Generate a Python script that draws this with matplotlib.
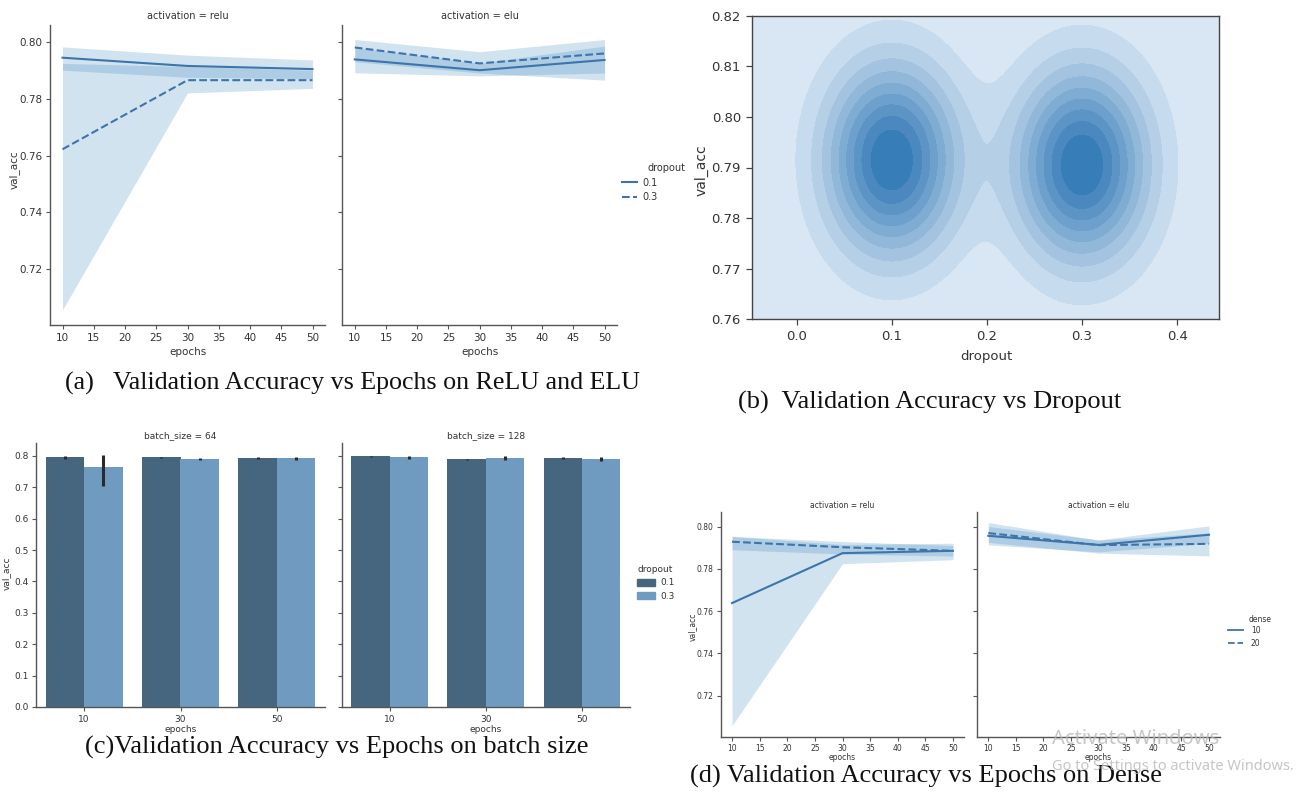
import numpy as np
import matplotlib
matplotlib.use("Agg")
import matplotlib.pyplot as plt
from matplotlib.colors import LinearSegmentedColormap
from matplotlib.lines import Line2D
from matplotlib.patches import Patch

# ---------------- data ----------------
epochs = [10, 30, 50]
epoch_ticks = [10, 15, 20, 25, 30, 35, 40, 45, 50]

# (a) val_acc vs epochs, style = dropout
a_relu_d01 = [0.7944, 0.7915, 0.7904]
a_relu_d01_lo = [0.7900, 0.7875, 0.7870]
a_relu_d01_hi = [0.7982, 0.7953, 0.7936]
a_relu_d03 = [0.7622, 0.7865, 0.7865]
a_relu_d03_lo = [0.7057, 0.7820, 0.7836]
a_relu_d03_hi = [0.7924, 0.7913, 0.7900]

a_elu_d01 = [0.7938, 0.7900, 0.7936]
a_elu_d01_lo = [0.7891, 0.7880, 0.7890]
a_elu_d01_hi = [0.7980, 0.7925, 0.7985]
a_elu_d03 = [0.7980, 0.7924, 0.7959]
a_elu_d03_lo = [0.7930, 0.7890, 0.7865]
a_elu_d03_hi = [0.8008, 0.7965, 0.8008]

# (b) bivariate KDE of dropout vs val_acc (peak parameters)
kde_peak_dropout = [0.1, 0.3]
kde_peak_valacc = [0.7915, 0.7905]
kde_bw_dropout = 0.047
kde_bw_valacc = 0.0129

# (c) bar chart val_acc by epochs, hue = dropout, facet = batch_size
batch_sizes = [64, 128]
epoch_cats = ["10", "30", "50"]
dropout_levels = ["0.1", "0.3"]
c_bs64_d01 = [0.795, 0.795, 0.792]
c_bs64_d01_lo = [0.791, 0.793, 0.789]
c_bs64_d01_hi = [0.799, 0.797, 0.795]
c_bs64_d03 = [0.766, 0.790, 0.792]
c_bs64_d03_lo = [0.704, 0.786, 0.788]
c_bs64_d03_hi = [0.803, 0.793, 0.796]
c_bs128_d01 = [0.798, 0.789, 0.792]
c_bs128_d01_lo = [0.795, 0.787, 0.789]
c_bs128_d01_hi = [0.801, 0.791, 0.795]
c_bs128_d03 = [0.795, 0.792, 0.789]
c_bs128_d03_lo = [0.791, 0.787, 0.783]
c_bs128_d03_hi = [0.798, 0.798, 0.795]

# (d) val_acc vs epochs, style = dense
dense_levels = ["10", "20"]
d_relu_n10 = [0.7638, 0.7874, 0.7885]
d_relu_n10_lo = [0.7058, 0.7824, 0.7843]
d_relu_n10_hi = [0.7953, 0.7915, 0.7921]
d_relu_n20 = [0.7928, 0.7902, 0.7885]
d_relu_n20_lo = [0.7890, 0.7870, 0.7860]
d_relu_n20_hi = [0.7953, 0.7929, 0.7910]
d_elu_n10 = [0.7956, 0.7913, 0.7961]
d_elu_n10_lo = [0.7913, 0.7880, 0.7920]
d_elu_n10_hi = [0.8000, 0.7937, 0.8003]
d_elu_n20 = [0.7969, 0.7912, 0.7918]
d_elu_n20_lo = [0.7925, 0.7874, 0.7861]
d_elu_n20_hi = [0.8019, 0.7935, 0.7970]

# ---------------- style ----------------
W, H = 1303, 794
plt.rcParams["font.family"] = ["DejaVu Sans"]
fig = plt.figure(figsize=(W / 100, H / 100), dpi=100)

C0 = "#1f77b4"
LINE = "#3d74aa"
SPINE = "#555555"
TXT = "#333333"
SERIF = ["Liberation Serif", "DejaVu Serif"]
BAR_DARK = "#46667f"
BAR_LIGHT = "#6f9bc1"


def add_ax(x0, y0, x1, y1):
    return fig.add_axes([x0 / W, 1 - y1 / H, (x1 - x0) / W, (y1 - y0) / H])


def ftext(x, y, s, **kw):
    return fig.text(x / W, 1 - y / H, s, **kw)


def style_facet(ax, fs, labelleft=True):
    for s in ["top", "right"]:
        ax.spines[s].set_visible(False)
    for s in ["left", "bottom"]:
        ax.spines[s].set_color(SPINE)
        ax.spines[s].set_linewidth(1.0)
    ax.tick_params(labelsize=fs, color=SPINE, labelcolor=TXT, length=3, width=0.8, pad=2.5)
    if not labelleft:
        ax.tick_params(axis="y", labelleft=False)


def draw_lines(ax, series):
    for (m, lo, hi, ls) in series:
        ax.fill_between(epochs, lo, hi, color=C0, alpha=0.2, lw=0)
        ax.plot(epochs, m, color=LINE, ls=ls, lw=1.5)


# ---------------- panel (a) ----------------
a_boxes = [(50, 25, 325, 325), (342.3, 25, 617, 325)]
a_titles = ["activation = relu", "activation = elu"]
a_series = [
    [(a_relu_d01, a_relu_d01_lo, a_relu_d01_hi, "-"),
     (a_relu_d03, a_relu_d03_lo, a_relu_d03_hi, "--")],
    [(a_elu_d01, a_elu_d01_lo, a_elu_d01_hi, "-"),
     (a_elu_d03, a_elu_d03_lo, a_elu_d03_hi, "--")],
]
for i, (box, title, ser) in enumerate(zip(a_boxes, a_titles, a_series)):
    ax = add_ax(*box)
    draw_lines(ax, ser)
    ax.set_xlim(8, 52)
    ax.set_ylim(0.7004, 0.8059)
    ax.set_xticks(epoch_ticks)
    ax.set_yticks([0.72, 0.74, 0.76, 0.78, 0.80])
    ax.set_yticklabels(["0.72", "0.74", "0.76", "0.78", "0.80"])
    style_facet(ax, 7.5, labelleft=(i == 0))
    ftext((box[0] + box[2]) / 2, 16, title, ha="center", va="center", fontsize=7, color=TXT)
    ftext((box[0] + box[2]) / 2, 352, "epochs", ha="center", va="center", fontsize=7.5, color=TXT)
ftext(14, 170, "val_acc", rotation=90, ha="center", va="center", fontsize=7.5, color=TXT)
fig.legend([Line2D([], [], color=LINE, lw=1.5, ls="-"), Line2D([], [], color=LINE, lw=1.5, ls="--")],
           dropout_levels, loc="center left", bbox_to_anchor=(622 / W, 1 - 190 / H), frameon=False,
           fontsize=7, handlelength=1.55, handletextpad=0.5, labelspacing=0.45,
           borderpad=0, borderaxespad=0, labelcolor=TXT)
ftext(648, 168, "dropout", ha="left", va="center", fontsize=7, color=TXT)
ftext(65, 383, "(a)   Validation Accuracy vs Epochs on ReLU and ELU", family=SERIF,
      fontsize=18.7, ha="left", va="center", color="#111111")

# ---------------- panel (b) ----------------
axb = add_ax(752, 16, 1219, 319)
xlim_b = (-0.047, 0.444)
ylim_b = (0.76, 0.82)
gx = np.linspace(xlim_b[0] - 0.01, xlim_b[1] + 0.01, 400)
gy = np.linspace(ylim_b[0] - 0.002, ylim_b[1] + 0.002, 400)
XX, YY = np.meshgrid(gx, gy)
ZZ = np.zeros_like(XX)
for px_, py_ in zip(kde_peak_dropout, kde_peak_valacc):
    ZZ += np.exp(-0.5 * (((XX - px_) / kde_bw_dropout) ** 2 + ((YY - py_) / kde_bw_valacc) ** 2))
ZZ /= ZZ.max()
kde_cmap = LinearSegmentedColormap.from_list("kde", ["#e1ecf7", "#2f77b5"])
axb.contourf(XX, YY, ZZ, levels=10, cmap=kde_cmap)
axb.set_facecolor("#e1ecf7")
axb.set_xlim(*xlim_b)
axb.set_ylim(*ylim_b)
axb.set_xticks([0.0, 0.1, 0.2, 0.3, 0.4])
axb.set_xticklabels(["0.0", "0.1", "0.2", "0.3", "0.4"])
axb.set_yticks([0.76, 0.77, 0.78, 0.79, 0.80, 0.81, 0.82])
axb.set_yticklabels(["0.76", "0.77", "0.78", "0.79", "0.80", "0.81", "0.82"])
for s in axb.spines.values():
    s.set_color("#444444")
    s.set_linewidth(1.0)
axb.tick_params(labelsize=9.5, color="#444444", labelcolor=TXT, length=4, width=0.9, pad=4)
ftext(701.7, 170, "val_acc", rotation=90, ha="center", va="center", fontsize=10, color=TXT)
ftext(986.7, 356, "dropout", ha="center", va="center", fontsize=9.5, color=TXT)
ftext(738, 402, "(b)  Validation Accuracy vs Dropout", family=SERIF,
      fontsize=19, ha="left", va="center", color="#111111")

# ---------------- panel (c) ----------------
c_boxes = [(36, 443, 325, 707), (341.7, 443, 630, 707)]
c_data = [
    [(c_bs64_d01, c_bs64_d01_lo, c_bs64_d01_hi), (c_bs64_d03, c_bs64_d03_lo, c_bs64_d03_hi)],
    [(c_bs128_d01, c_bs128_d01_lo, c_bs128_d01_hi), (c_bs128_d03, c_bs128_d03_lo, c_bs128_d03_hi)],
]
bar_colors = [BAR_DARK, BAR_LIGHT]
xpos = np.arange(len(epoch_cats))
for i, (box, bs, data) in enumerate(zip(c_boxes, batch_sizes, c_data)):
    ax = add_ax(*box)
    for j, ((vals, lo, hi), col) in enumerate(zip(data, bar_colors)):
        off = -0.2 + 0.4 * j
        ax.bar(xpos + off, vals, width=0.4, color=col, lw=0)
        ax.vlines(xpos + off, lo, hi, color="#2a2a2a", lw=2.2)
    ax.set_xlim(-0.5, 2.5)
    ax.set_ylim(0, 0.841)
    ax.set_xticks(xpos)
    ax.set_xticklabels(epoch_cats)
    ax.set_yticks(np.arange(0, 0.81, 0.1))
    ax.set_yticklabels(["0.0", "0.1", "0.2", "0.3", "0.4", "0.5", "0.6", "0.7", "0.8"])
    style_facet(ax, 6.5, labelleft=(i == 0))
    ftext((box[0] + box[2]) / 2, 436, "batch_size = %d" % bs, ha="center", va="center",
          fontsize=6.5, color=TXT)
    ftext((box[0] + box[2]) / 2, 730, "epochs", ha="center", va="center", fontsize=6.5, color=TXT)
ftext(6, 573, "val_acc", rotation=90, ha="center", va="center", fontsize=6.5, color=TXT)
fig.legend([Patch(color=BAR_DARK), Patch(color=BAR_LIGHT)], dropout_levels,
           loc="center left", bbox_to_anchor=(637 / W, 1 - 589.5 / H), frameon=False,
           fontsize=6.5, handlelength=2.0, handleheight=0.9, handletextpad=0.55,
           labelspacing=0.45, borderpad=0, borderaxespad=0, labelcolor=TXT)
ftext(638, 569, "dropout", ha="left", va="center", fontsize=6.5, color=TXT)
ftext(85, 747, "(c)Validation Accuracy vs Epochs on batch size", family=SERIF,
      fontsize=19, ha="left", va="center", color="#111111")

# ---------------- panel (d) ----------------
d_boxes = [(721, 511.7, 964, 736.7), (977.3, 511.7, 1220, 736.7)]
d_series = [
    [(d_relu_n10, d_relu_n10_lo, d_relu_n10_hi, "-"),
     (d_relu_n20, d_relu_n20_lo, d_relu_n20_hi, "--")],
    [(d_elu_n10, d_elu_n10_lo, d_elu_n10_hi, "-"),
     (d_elu_n20, d_elu_n20_lo, d_elu_n20_hi, "--")],
]
for i, (box, title, ser) in enumerate(zip(d_boxes, a_titles, d_series)):
    ax = add_ax(*box)
    draw_lines(ax, ser)
    ax.set_xlim(8, 52)
    ax.set_ylim(0.7006, 0.807)
    ax.set_xticks(epoch_ticks)
    ax.set_yticks([0.72, 0.74, 0.76, 0.78, 0.80])
    ax.set_yticklabels(["0.72", "0.74", "0.76", "0.78", "0.80"])
    style_facet(ax, 5.5, labelleft=(i == 0))
    ftext((box[0] + box[2]) / 2, 505, title, ha="center", va="center", fontsize=5.5, color=TXT)
    ftext((box[0] + box[2]) / 2, 757.3, "epochs", ha="center", va="center", fontsize=5.5, color=TXT)
ftext(692, 627, "val_acc", rotation=90, ha="center", va="center", fontsize=5.5, color=TXT)
fig.legend([Line2D([], [], color=LINE, lw=1.3, ls="-"), Line2D([], [], color=LINE, lw=1.3, ls="--")],
           dense_levels, loc="center left", bbox_to_anchor=(1228 / W, 1 - 636.7 / H), frameon=False,
           fontsize=5.5, handlelength=2.0, handletextpad=1.0, labelspacing=0.55,
           borderpad=0, borderaxespad=0, labelcolor=TXT)
ftext(1249, 620, "dense", ha="left", va="center", fontsize=5.5, color=TXT)
ftext(690, 776, "(d) Validation Accuracy vs Epochs on Dense", family=SERIF,
      fontsize=19, ha="left", va="center", color="#111111")

# ---------------- OS watermark visible in the reference ----------------
ftext(1052, 739, "Activate Windows", family=["Noto Sans", "DejaVu Sans"], fontsize=14.5,
      ha="left", va="center", color="#b8b8b8", alpha=0.8)
ftext(1052, 766, "Go to Settings to activate Windows.", family=["Noto Sans", "DejaVu Sans"],
      fontsize=10.5, ha="left", va="center", color="#b8b8b8", alpha=0.8)

fig.savefig("out.png", dpi=100, facecolor="white")
